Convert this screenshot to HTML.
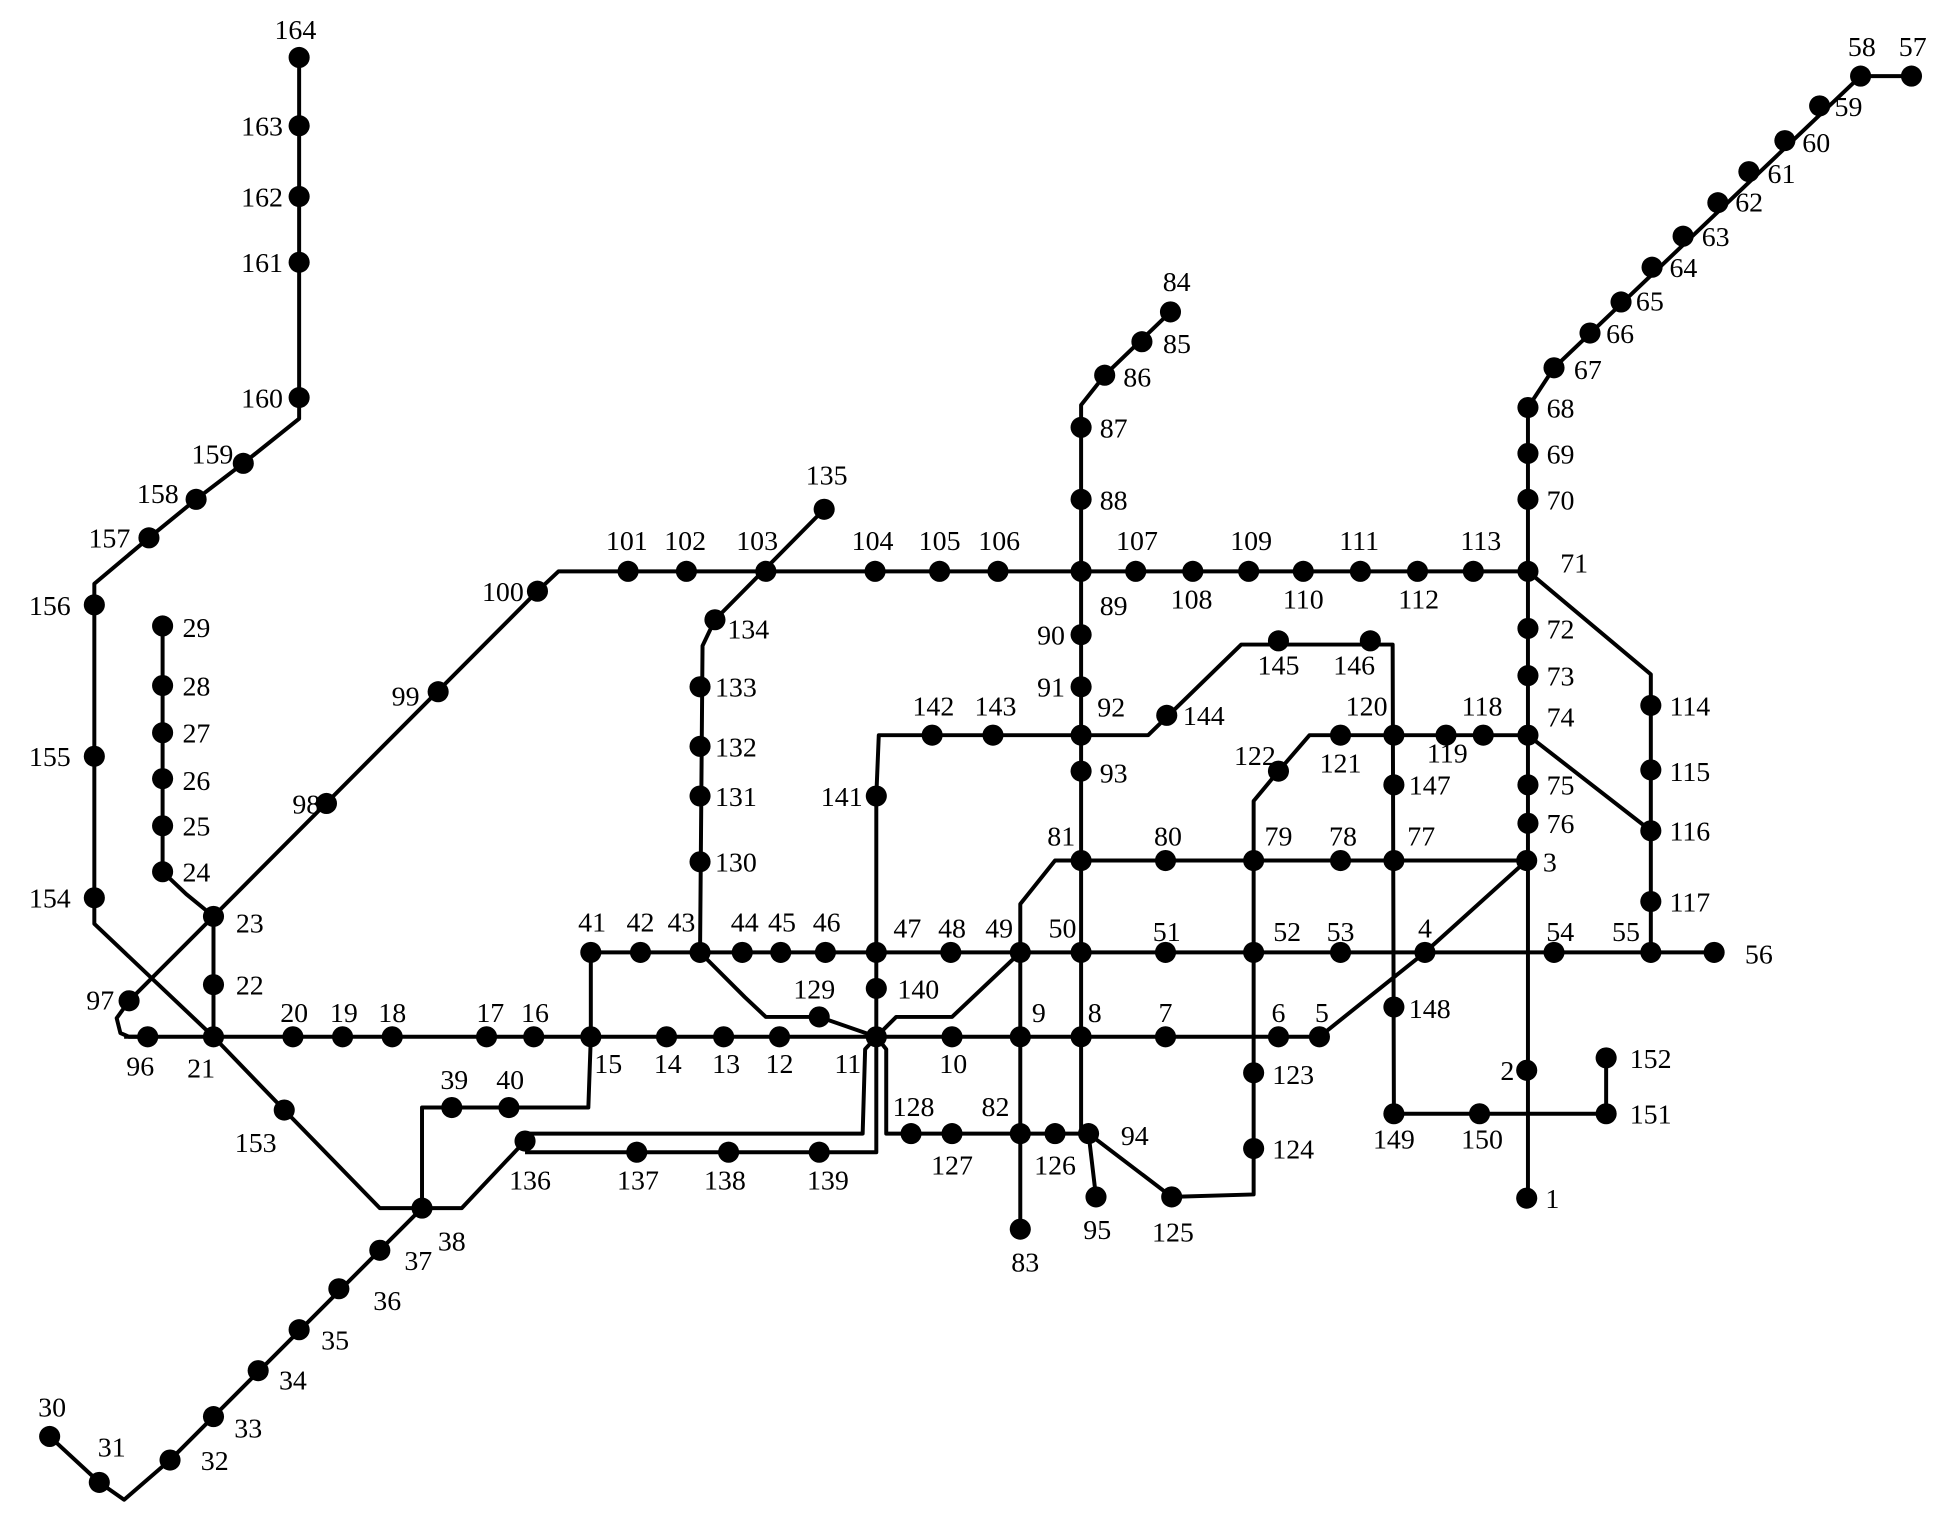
<!DOCTYPE html>
<html><head><meta charset="utf-8"><style>
html,body{margin:0;padding:0;background:#fff;}
svg{display:block;}
text{font-family:"Liberation Serif",serif;font-size:22.5px;fill:#000;}
.m{text-anchor:middle}.e{text-anchor:end}
</style></head><body>
<svg width="1945" height="1520" viewBox="0 0 1567 1224" xmlns="http://www.w3.org/2000/svg">
<g fill="none" stroke="#000" stroke-width="3.2" stroke-linejoin="round">
<polyline points="241,46 241,337 196,373 158,402 120,433 76,470 76,744 172,835 229,894 306,973 372,973 423,919"/>
<polyline points="40,1157 80,1194 100,1208 137,1176 340,973 340,892 474,892 476,835"/>
<line x1="476" y1="767" x2="476" y2="835"/>
<polyline points="100,835 1063,835 1148,767 1230,693"/>
<polyline points="172,738 104,806 94,820 97,832 104,835 119,835"/>
<polyline points="131,504 131,702 150,720 172,738"/>
<line x1="172" y1="738" x2="172" y2="835"/>
<polyline points="172,738 433,476 450,460 1231,460"/>
<line x1="476" y1="767" x2="1381" y2="767"/>
<polyline points="564,767 600,803 617,819 660,819 706,835 722,819 767,819 822,767"/>
<polyline points="822,767 822,728 850,693 1230,693"/>
<line x1="822" y1="767" x2="822" y2="990"/>
<polyline points="706,641 708,592 925,592 1000,519 1122,519 1123,897 1294,897 1294,852"/>
<line x1="706" y1="641" x2="706" y2="835"/>
<polyline points="706,835 714,845 714,913 877,913 883,964"/>
<polyline points="877,913 944,964 1010,962 1010,645 1030,621 1055,592 1231,592"/>
<polyline points="943,251 890,302 871,326 871,913"/>
<polyline points="1540,61 1499,61 1252,296 1231,328 1231,965"/>
<polyline points="1231,460 1330,543 1330,767"/>
<line x1="1231" y1="592" x2="1330" y2="669"/>
<polyline points="664,410 576,499 566,520 564,767"/>
<polyline points="423,913 695,913 697,845 706,835"/>
<polyline points="423,928 706,928 706,835"/>
</g>
<g fill="#000">
<circle cx="1230" cy="965" r="8.5"/><circle cx="1230" cy="862" r="8.5"/><circle cx="1230" cy="693" r="8.5"/><circle cx="1148" cy="767" r="8.5"/><circle cx="1063" cy="835" r="8.5"/><circle cx="1030" cy="835" r="8.5"/><circle cx="939" cy="835" r="8.5"/><circle cx="871" cy="835" r="8.5"/><circle cx="822" cy="835" r="8.5"/><circle cx="767" cy="835" r="8.5"/><circle cx="706" cy="835" r="8.5"/><circle cx="628" cy="835" r="8.5"/><circle cx="583" cy="835" r="8.5"/><circle cx="537" cy="835" r="8.5"/><circle cx="476" cy="835" r="8.5"/><circle cx="430" cy="835" r="8.5"/><circle cx="392" cy="835" r="8.5"/><circle cx="316" cy="835" r="8.5"/><circle cx="276" cy="835" r="8.5"/><circle cx="236" cy="835" r="8.5"/><circle cx="172" cy="835" r="8.5"/><circle cx="172" cy="793" r="8.5"/><circle cx="172" cy="738" r="8.5"/><circle cx="131" cy="702" r="8.5"/><circle cx="131" cy="665" r="8.5"/><circle cx="131" cy="627" r="8.5"/><circle cx="131" cy="590" r="8.5"/><circle cx="131" cy="552" r="8.5"/><circle cx="131" cy="504" r="8.5"/><circle cx="40" cy="1157" r="8.5"/><circle cx="80" cy="1194" r="8.5"/><circle cx="137" cy="1176" r="8.5"/><circle cx="172" cy="1141" r="8.5"/><circle cx="208" cy="1104" r="8.5"/><circle cx="241" cy="1071" r="8.5"/><circle cx="273" cy="1038" r="8.5"/><circle cx="306" cy="1007" r="8.5"/><circle cx="340" cy="973" r="8.5"/><circle cx="364" cy="892" r="8.5"/><circle cx="410" cy="892" r="8.5"/><circle cx="476" cy="767" r="8.5"/><circle cx="516" cy="767" r="8.5"/><circle cx="564" cy="767" r="8.5"/><circle cx="598" cy="767" r="8.5"/><circle cx="629" cy="767" r="8.5"/><circle cx="665" cy="767" r="8.5"/><circle cx="706" cy="767" r="8.5"/><circle cx="766" cy="767" r="8.5"/><circle cx="822" cy="767" r="8.5"/><circle cx="871" cy="767" r="8.5"/><circle cx="939" cy="767" r="8.5"/><circle cx="1010" cy="767" r="8.5"/><circle cx="1080" cy="767" r="8.5"/><circle cx="1252" cy="767" r="8.5"/><circle cx="1330" cy="767" r="8.5"/><circle cx="1381" cy="767" r="8.5"/><circle cx="1540" cy="61" r="8.5"/><circle cx="1499" cy="61" r="8.5"/><circle cx="1466" cy="85" r="8.5"/><circle cx="1438" cy="113" r="8.5"/><circle cx="1409" cy="138" r="8.5"/><circle cx="1384" cy="163" r="8.5"/><circle cx="1356" cy="190" r="8.5"/><circle cx="1331" cy="215" r="8.5"/><circle cx="1306" cy="243" r="8.5"/><circle cx="1281" cy="268" r="8.5"/><circle cx="1252" cy="296" r="8.5"/><circle cx="1231" cy="328" r="8.5"/><circle cx="1231" cy="365" r="8.5"/><circle cx="1231" cy="402" r="8.5"/><circle cx="1231" cy="460" r="8.5"/><circle cx="1231" cy="506" r="8.5"/><circle cx="1231" cy="544" r="8.5"/><circle cx="1231" cy="592" r="8.5"/><circle cx="1231" cy="632" r="8.5"/><circle cx="1231" cy="663" r="8.5"/><circle cx="1123" cy="693" r="8.5"/><circle cx="1080" cy="693" r="8.5"/><circle cx="1010" cy="693" r="8.5"/><circle cx="939" cy="693" r="8.5"/><circle cx="871" cy="693" r="8.5"/><circle cx="822" cy="913" r="8.5"/><circle cx="822" cy="990" r="8.5"/><circle cx="943" cy="251" r="8.5"/><circle cx="920" cy="275" r="8.5"/><circle cx="890" cy="302" r="8.5"/><circle cx="871" cy="344" r="8.5"/><circle cx="871" cy="402" r="8.5"/><circle cx="871" cy="460" r="8.5"/><circle cx="871" cy="511" r="8.5"/><circle cx="871" cy="553" r="8.5"/><circle cx="871" cy="592" r="8.5"/><circle cx="871" cy="621" r="8.5"/><circle cx="877" cy="913" r="8.5"/><circle cx="883" cy="964" r="8.5"/><circle cx="119" cy="835" r="8.5"/><circle cx="104" cy="806" r="8.5"/><circle cx="263" cy="647" r="8.5"/><circle cx="353" cy="557" r="8.5"/><circle cx="433" cy="476" r="8.5"/><circle cx="506" cy="460" r="8.5"/><circle cx="553" cy="460" r="8.5"/><circle cx="617" cy="460" r="8.5"/><circle cx="705" cy="460" r="8.5"/><circle cx="757" cy="460" r="8.5"/><circle cx="804" cy="460" r="8.5"/><circle cx="915" cy="460" r="8.5"/><circle cx="961" cy="460" r="8.5"/><circle cx="1006" cy="460" r="8.5"/><circle cx="1050" cy="460" r="8.5"/><circle cx="1096" cy="460" r="8.5"/><circle cx="1142" cy="460" r="8.5"/><circle cx="1187" cy="460" r="8.5"/><circle cx="1330" cy="568" r="8.5"/><circle cx="1330" cy="620" r="8.5"/><circle cx="1330" cy="669" r="8.5"/><circle cx="1330" cy="726" r="8.5"/><circle cx="1195" cy="592" r="8.5"/><circle cx="1165" cy="592" r="8.5"/><circle cx="1123" cy="592" r="8.5"/><circle cx="1080" cy="592" r="8.5"/><circle cx="1030" cy="621" r="8.5"/><circle cx="1010" cy="864" r="8.5"/><circle cx="1010" cy="925" r="8.5"/><circle cx="944" cy="964" r="8.5"/><circle cx="850" cy="913" r="8.5"/><circle cx="767" cy="913" r="8.5"/><circle cx="734" cy="913" r="8.5"/><circle cx="660" cy="819" r="8.5"/><circle cx="564" cy="694" r="8.5"/><circle cx="564" cy="641" r="8.5"/><circle cx="564" cy="601" r="8.5"/><circle cx="564" cy="553" r="8.5"/><circle cx="576" cy="499" r="8.5"/><circle cx="664" cy="410" r="8.5"/><circle cx="423" cy="919" r="8.5"/><circle cx="513" cy="928" r="8.5"/><circle cx="587" cy="928" r="8.5"/><circle cx="660" cy="928" r="8.5"/><circle cx="706" cy="796" r="8.5"/><circle cx="706" cy="641" r="8.5"/><circle cx="751" cy="592" r="8.5"/><circle cx="800" cy="592" r="8.5"/><circle cx="940" cy="576" r="8.5"/><circle cx="1030" cy="516" r="8.5"/><circle cx="1104" cy="516" r="8.5"/><circle cx="1123" cy="632" r="8.5"/><circle cx="1123" cy="811" r="8.5"/><circle cx="1123" cy="897" r="8.5"/><circle cx="1192" cy="897" r="8.5"/><circle cx="1294" cy="897" r="8.5"/><circle cx="1294" cy="852" r="8.5"/><circle cx="229" cy="894" r="8.5"/><circle cx="76" cy="723" r="8.5"/><circle cx="76" cy="609" r="8.5"/><circle cx="76" cy="487" r="8.5"/><circle cx="120" cy="433" r="8.5"/><circle cx="158" cy="402" r="8.5"/><circle cx="196" cy="373" r="8.5"/><circle cx="241" cy="320" r="8.5"/><circle cx="241" cy="211" r="8.5"/><circle cx="241" cy="158" r="8.5"/><circle cx="241" cy="101" r="8.5"/><circle cx="241" cy="46" r="8.5"/>
</g>
<g>
<text x="1245" y="973">1</text><text class="e" x="1220" y="870">2</text><text x="1243" y="702">3</text>
<text class="m" x="1148" y="755">4</text><text class="m" x="1065" y="823">5</text><text class="m" x="1030" y="823">6</text><text class="m" x="939" y="823">7</text><text class="m" x="882" y="823">8</text><text class="m" x="837" y="823">9</text>
<text class="m" x="768" y="864">10</text><text class="m" x="683" y="864">11</text><text class="m" x="628" y="864">12</text><text class="m" x="585" y="864">13</text><text class="m" x="538" y="864">14</text><text class="m" x="490" y="864">15</text>
<text class="m" x="431" y="823">16</text><text class="m" x="395" y="823">17</text><text class="m" x="316" y="823">18</text><text class="m" x="277" y="823">19</text><text class="m" x="237" y="823">20</text>
<text class="m" x="162" y="868">21</text><text x="190" y="801">22</text><text x="190" y="751">23</text>
<text x="147" y="710">24</text><text x="147" y="673">25</text><text x="147" y="636">26</text><text x="147" y="598">27</text><text x="147" y="560">28</text><text x="147" y="513">29</text>
<text class="m" x="42" y="1141">30</text><text class="m" x="90" y="1173">31</text><text class="m" x="173" y="1184">32</text><text class="m" x="200" y="1158">33</text><text class="m" x="236" y="1119">34</text><text class="m" x="270" y="1087">35</text><text class="m" x="312" y="1055">36</text><text class="m" x="337" y="1023">37</text><text class="m" x="364" y="1007">38</text>
<text class="m" x="366" y="877">39</text><text class="m" x="411" y="877">40</text>
<text class="m" x="477" y="750">41</text><text class="m" x="516" y="750">42</text><text class="m" x="549" y="750">43</text><text class="m" x="600" y="750">44</text><text class="m" x="630" y="750">45</text><text class="m" x="666" y="750">46</text><text class="m" x="731" y="755">47</text><text class="m" x="767" y="755">48</text><text class="m" x="805" y="755">49</text><text class="m" x="856" y="755">50</text><text class="m" x="940" y="758">51</text><text class="m" x="1037" y="758">52</text><text class="m" x="1080" y="758">53</text><text class="m" x="1257" y="758">54</text><text class="m" x="1310" y="758">55</text><text class="m" x="1417" y="776">56</text>
<text class="m" x="1541" y="45">57</text><text class="m" x="1500" y="45">58</text><text x="1478" y="93">59</text><text x="1452" y="122">60</text><text x="1424" y="147">61</text><text x="1398" y="170">62</text><text x="1371" y="198">63</text><text x="1345" y="223">64</text><text x="1318" y="250">65</text><text x="1294" y="276">66</text><text x="1268" y="305">67</text>
<text x="1246" y="336">68</text><text x="1246" y="373">69</text><text x="1246" y="410">70</text><text x="1257" y="461">71</text><text x="1246" y="514">72</text><text x="1246" y="552">73</text><text x="1246" y="585">74</text><text x="1246" y="640">75</text><text x="1246" y="671">76</text>
<text class="m" x="1145" y="681">77</text><text class="m" x="1082" y="681">78</text><text class="m" x="1030" y="681">79</text><text class="m" x="941" y="681">80</text><text class="m" x="855" y="681">81</text>
<text class="m" x="802" y="899">82</text><text class="m" x="826" y="1024">83</text><text class="m" x="948" y="234">84</text><text x="937" y="284">85</text><text x="905" y="311">86</text><text x="886" y="352">87</text><text x="886" y="410">88</text><text x="886" y="495">89</text><text class="e" x="858" y="519">90</text><text class="e" x="858" y="561">91</text><text x="884" y="577">92</text><text x="886" y="630">93</text><text x="903" y="922">94</text><text class="m" x="884" y="998">95</text>
<text class="m" x="113" y="866">96</text><text class="e" x="92" y="813">97</text><text class="e" x="258" y="655">98</text><text class="e" x="338" y="568">99</text><text class="e" x="422" y="484">100</text>
<text class="m" x="505" y="443">101</text><text class="m" x="552" y="443">102</text><text class="m" x="610" y="443">103</text><text class="m" x="703" y="443">104</text><text class="m" x="757" y="443">105</text><text class="m" x="805" y="443">106</text><text class="m" x="916" y="443">107</text><text class="m" x="960" y="490">108</text><text class="m" x="1008" y="443">109</text><text class="m" x="1050" y="490">110</text><text class="m" x="1095" y="443">111</text><text class="m" x="1143" y="490">112</text><text class="m" x="1193" y="443">113</text>
<text x="1345" y="576">114</text><text x="1345" y="629">115</text><text x="1345" y="677">116</text><text x="1345" y="734">117</text>
<text class="m" x="1194" y="576">118</text><text class="m" x="1166" y="614">119</text><text class="m" x="1101" y="576">120</text><text class="m" x="1080" y="622">121</text><text class="m" x="1011" y="616">122</text>
<text x="1025" y="873">123</text><text x="1025" y="933">124</text><text class="m" x="945" y="1000">125</text><text class="m" x="850" y="946">126</text><text class="m" x="767" y="946">127</text><text class="m" x="736" y="899">128</text><text class="m" x="656" y="804">129</text>
<text x="576" y="702">130</text><text x="576" y="649">131</text><text x="576" y="609">132</text><text x="576" y="561">133</text><text x="586" y="514">134</text><text class="m" x="666" y="390">135</text>
<text class="m" x="427" y="958">136</text><text class="m" x="514" y="958">137</text><text class="m" x="584" y="958">138</text><text class="m" x="667" y="958">139</text><text x="723" y="804">140</text><text class="e" x="695" y="649">141</text><text class="m" x="752" y="576">142</text><text class="m" x="802" y="576">143</text><text x="953" y="584">144</text><text class="m" x="1030" y="543">145</text><text class="m" x="1091" y="543">146</text><text x="1135" y="640">147</text><text x="1135" y="820">148</text><text class="m" x="1123" y="925">149</text><text class="m" x="1194" y="925">150</text><text x="1313" y="905">151</text><text x="1313" y="860">152</text>
<text class="m" x="206" y="928">153</text><text class="e" x="57" y="731">154</text><text class="e" x="57" y="617">155</text><text class="e" x="57" y="495">156</text><text class="e" x="105" y="441">157</text><text class="e" x="144" y="405">158</text><text class="e" x="188" y="373">159</text><text class="e" x="228" y="328">160</text><text class="e" x="228" y="219">161</text><text class="e" x="228" y="166">162</text><text class="e" x="228" y="109">163</text><text class="m" x="238" y="31">164</text>
</g>
</svg>
</body></html>
